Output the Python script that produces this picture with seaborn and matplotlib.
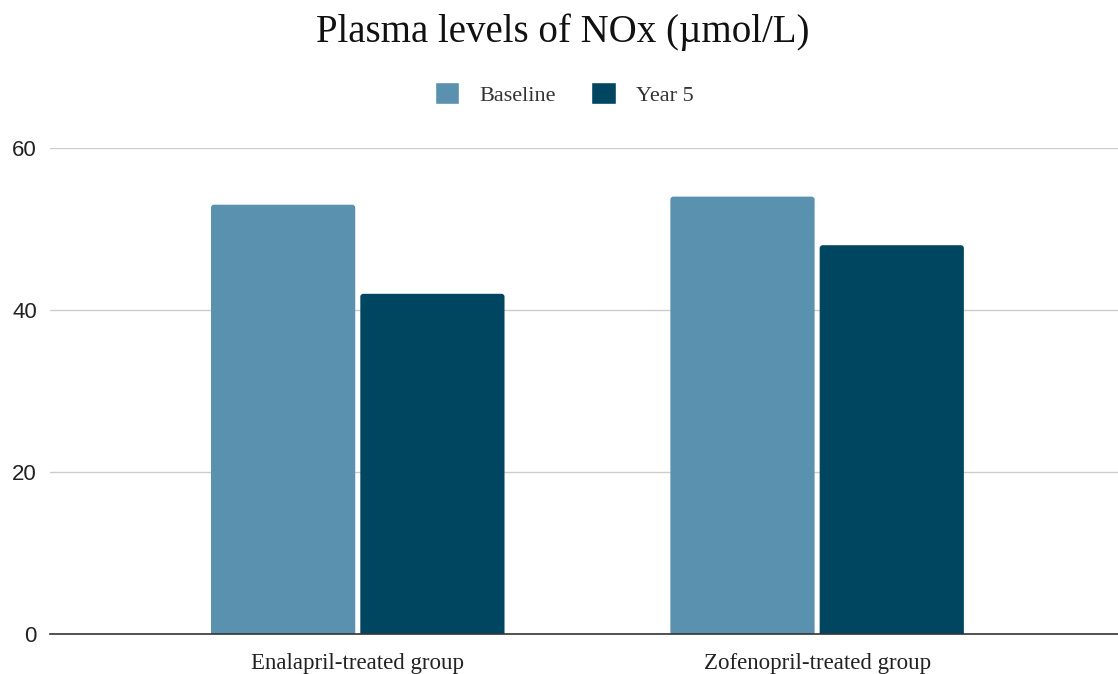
import matplotlib
matplotlib.use("Agg")
import matplotlib.pyplot as plt
from matplotlib.patches import FancyBboxPatch
import seaborn as sns
import pandas as pd

categories = ["Enalapril-treated group", "Zofenopril-treated group"]
series_names = ["Baseline", "Year 5"]
baseline = [53, 54]
year5 = [42, 48]
colors = ["#5991AE", "#014660"]
y_ticks = [0, 20, 40, 60]

df = pd.DataFrame({
    "group": categories * 2,
    "series": [series_names[0]] * 2 + [series_names[1]] * 2,
    "value": baseline + year5,
})

sns.set_theme(style="white")
plt.rcParams["font.family"] = ["Liberation Serif", "DejaVu Serif"]

fig = plt.figure(figsize=(11.18, 6.74), dpi=100)
ax = fig.add_axes([50 / 1118, 40 / 674, 1 - 50 / 1118, (634 - 148) / 674])

sns.barplot(data=df, x="group", y="value", hue="series", order=categories,
            hue_order=series_names, palette=colors, width=0.65, gap=0.034,
            saturation=1, ax=ax, legend=True)

ax.set_xlim(-0.67, 1.655)
ax.set_ylim(0, 60)

# rounded top corners (replace rectangles by rounded boxes extending below the axis)
px_x = 1068 / (1.655 + 0.67)
px_y = 486 / 60
for p in list(ax.patches):
    if p.get_height() <= 0:
        continue
    x, w, h = p.get_x(), p.get_width(), p.get_height()
    fc = p.get_facecolor()
    rb = FancyBboxPatch((x, -2), w, h + 2,
                        boxstyle="round,pad=0,rounding_size=%f" % (3 / px_x),
                        mutation_aspect=px_x / px_y,
                        facecolor=fc, edgecolor="none", zorder=p.get_zorder())
    p.set_visible(False)
    ax.add_patch(rb)

ax.set_yticks(y_ticks)
ax.set_yticklabels([str(t) for t in y_ticks], family="Liberation Sans", fontsize=16, color="#222222")
ax.set_axisbelow(True)
ax.yaxis.grid(True, color="#cccccc", linewidth=1)
ax.xaxis.grid(False)
for s in ["top", "right", "left"]:
    ax.spines[s].set_visible(False)
ax.spines["bottom"].set_color("#333333")
ax.spines["bottom"].set_linewidth(1.2)
ax.spines["bottom"].set_zorder(5)
ax.tick_params(axis="both", length=0)
ax.tick_params(axis="y", pad=9.5)
ax.tick_params(axis="x", pad=14)
for lbl in ax.get_xticklabels():
    lbl.set_fontsize(16.5)
    lbl.set_color("#222222")
ax.set_xlabel("")
ax.set_ylabel("")

handles, labels = ax.get_legend_handles_labels()
ax.legend(handles, labels, loc="center", bbox_to_anchor=(564 / 1118, 1 - 94 / 674),
          bbox_transform=fig.transFigure, ncol=2, frameon=False, fontsize=16,
          handlelength=1.1, handleheight=1.1, handletextpad=0.9, columnspacing=1.6,
          labelcolor="#333333")

fig.text(563 / 1118, 1 - 32 / 674, "Plasma levels of NOx (µmol/L)", ha="center", va="center",
         fontsize=28, color="#111111")

fig.savefig("out.png", dpi=100)
